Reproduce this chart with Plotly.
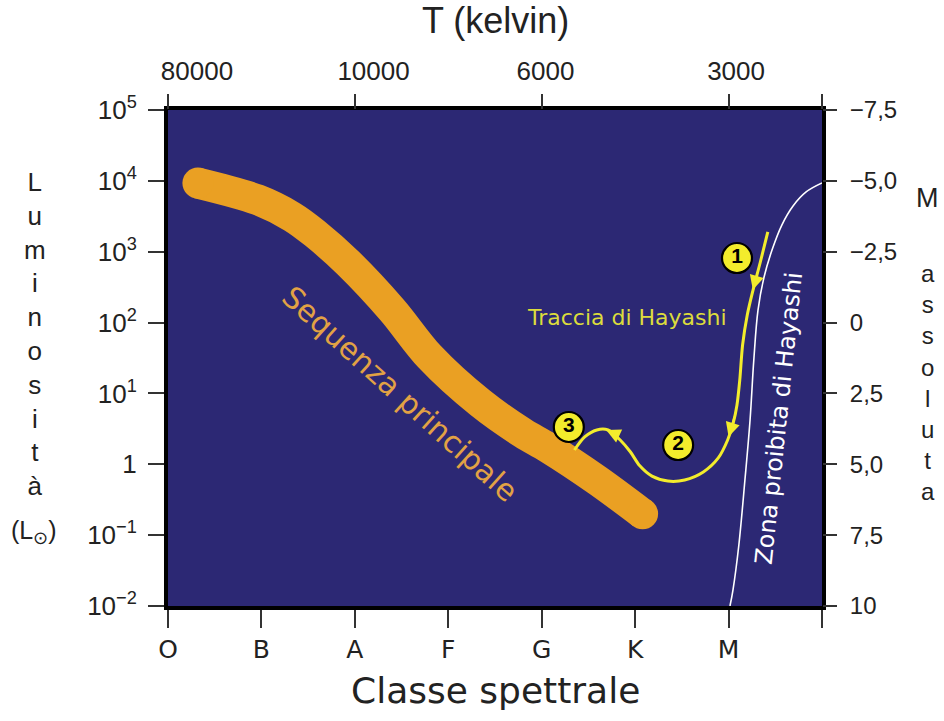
import plotly.graph_objects as go
import numpy as np

# ---------------- data ----------------
spectral_classes = ['O', 'B', 'A', 'F', 'G', 'K', 'M', '']
spectral_pos = [0, 1, 2, 3, 4, 5, 6, 7]

temp_labels = ['80000', '10000', '6000', '3000']
temp_label_pos = [0.31, 2.20, 4.04, 6.08]
temp_tick_pos = [0, 2, 4, 6, 7]

lum_ticks = [1e-2, 1e-1, 1, 1e1, 1e2, 1e3, 1e4, 1e5]
lum_ticktext = ['10<sup>−2</sup>', '10<sup>−1</sup>', '1', '10<sup>1</sup>',
                '10<sup>2</sup>', '10<sup>3</sup>', '10<sup>4</sup>', '10<sup>5</sup>']

mag_ticks = [-7.5, -5.0, -2.5, 0, 2.5, 5.0, 7.5, 10]
mag_ticktext = ['−7,5', '−5,0', '−2,5', '0', '2,5', '5,0', '7,5', '10']

# main sequence (spectral index, luminosity in L_sun)
ms_x = [0.32, 0.96, 1.33, 1.57, 1.93, 2.40, 2.80, 3.34, 3.80, 4.06, 4.59, 5.08]
ms_L = [9300, 5400, 3100, 1820, 690, 150, 33, 7.4, 2.75, 1.74, 0.60, 0.20]

# Hayashi track
hay_x = [6.42, 6.34, 6.26, 6.20, 6.15, 6.12, 6.09, 6.05, 5.99, 5.89, 5.73, 5.53,
         5.35, 5.18, 5.05, 4.95, 4.84, 4.71, 4.59, 4.46, 4.35]
hay_L = [1900, 716, 281, 128, 48.2, 15.5, 6.87, 3.83, 2.20, 1.23, 0.78, 0.60,
         0.58, 0.68, 0.95, 1.49, 2.20, 3.05, 3.05, 2.43, 1.59]

# Hayashi forbidden-zone boundary
fz_x = [7.00, 6.83, 6.69, 6.57, 6.465, 6.38, 6.315, 6.27, 6.23, 6.175, 6.11, 6.047, 6.015]
fz_L = [9330, 6970, 4420, 2380, 1057, 440, 150, 29.6, 4.22, 0.60, 0.0726, 0.0168, 0.01]

# numbered stages
stage_x = [6.09, 5.46, 4.29]
stage_L = [815, 1.87, 3.36]
stage_txt = ['1', '2', '3']

# arrows on the track: (head x, head L, tail x, tail L)
arrow_heads = [(6.26, 290.0, 6.305, 470.0),
               (6.00, 2.45, 6.07, 4.9),
               (4.69, 3.05, 4.83, 2.5)]

# ---------------- styles ----------------
NAVY = '#2c2874'
ORANGE = '#eaa023'
YELLOW = '#f3ec2c'
TXT = '#222222'
SANS = 'Liberation Sans, Arial, sans-serif'
DJV = 'DejaVu Sans, sans-serif'

fig = go.Figure()

fig.add_trace(go.Scatter(x=ms_x, y=ms_L, mode='lines',
                         line=dict(color=ORANGE, width=31, shape='spline', smoothing=0.9),
                         hoverinfo='skip', showlegend=False))
fig.add_trace(go.Scatter(x=[ms_x[0], ms_x[-1]], y=[ms_L[0], ms_L[-1]], mode='markers',
                         marker=dict(color=ORANGE, size=31, line=dict(width=0)),
                         hoverinfo='skip', showlegend=False))

fig.add_trace(go.Scatter(x=fz_x, y=fz_L, mode='lines',
                         line=dict(color='white', width=1.6, shape='spline', smoothing=1.0),
                         hoverinfo='skip', showlegend=False))

fig.add_trace(go.Scatter(x=hay_x, y=hay_L, mode='lines',
                         line=dict(color=YELLOW, width=3, shape='spline', smoothing=0.8),
                         hoverinfo='skip', showlegend=False))

fig.add_trace(go.Scatter(x=stage_x, y=stage_L, mode='markers+text',
                         text=['<b>%s</b>' % t for t in stage_txt],
                         textposition='middle center',
                         textfont=dict(family=SANS, size=21, color='black'),
                         marker=dict(color=YELLOW, size=30, line=dict(color='black', width=2.2)),
                         hoverinfo='skip', showlegend=False))

# dummy trace for secondary axes
fig.add_trace(go.Scatter(x=[0], y=[10], xaxis='x2', yaxis='y2', mode='markers',
                         marker=dict(opacity=0), hoverinfo='skip', showlegend=False))

annotations = []
for hx, hL, tx, tL in arrow_heads:
    annotations.append(dict(x=hx, y=np.log10(hL), ax=tx, ay=np.log10(tL),
                            xref='x', yref='y', axref='x', ayref='y', text='',
                            showarrow=True, arrowhead=2, arrowsize=1.3, arrowwidth=2.2,
                            arrowcolor=YELLOW, standoff=0, startstandoff=0))

def label(x, y, text, size, family=SANS, color=TXT, ref='paper', angle=0):
    return dict(x=x, y=y, xref=ref, yref=ref, text=text, showarrow=False,
                xanchor='center', yanchor='middle', textangle=angle,
                font=dict(family=family, size=size, color=color))

annotations += [
    label(4.91, 2.065, 'Traccia di Hayashi', 22, DJV, '#dcdc3c', 'x'),
    label(2.48, 1.0, 'Sequenza principale', 30, DJV, '#e2a244', 'x', 42),
    label(6.54, 0.65, 'Zona proibita di Hayashi', 24, DJV, 'white', 'x', -84),
    # axis titles
    label(0.50, 1.18, 'T (kelvin)', 36),
    label(0.50, -0.17, 'Classe spettrale', 36, DJV),
    label(-0.203, 0.548, '<br>'.join(list('Luminosità')), 26),
    label(-0.205, 0.15, '(L<sub>⊙</sub>)', 25),
    label(1.162, 0.823, 'M', 27),
    label(1.162, 0.450, '<br>'.join(list('assoluta')), 24),
]

for a in annotations[3:]:
    if a.get('xref') in ('x',):
        a['yref'] = 'y'

fig.update_layout(
    width=944, height=721,
    margin=dict(l=168, r=122, t=110, b=115),
    paper_bgcolor='white', plot_bgcolor=NAVY,
    showlegend=False,
    annotations=annotations,
    xaxis=dict(range=[0, 7], tickmode='array', tickvals=spectral_pos, ticktext=spectral_classes,
               ticks='outside', ticklen=18, tickwidth=1.5, tickcolor='#333',
               tickfont=dict(family=DJV, size=25, color=TXT),
               showline=True, linewidth=4, linecolor='black', mirror=True,
               showgrid=False, zeroline=False, fixedrange=True, ticklabelstandoff=0),
    xaxis2=dict(range=[0, 7], overlaying='x', side='top', tickmode='array',
                tickvals=temp_label_pos, ticktext=temp_labels, ticks='',
                minor=dict(tickmode='array', tickvals=temp_tick_pos, ticks='outside',
                           ticklen=15, tickwidth=1.5, tickcolor='#333', showgrid=False),
                tickfont=dict(family=SANS, size=26, color=TXT),
                showline=False, showgrid=False, zeroline=False, ticklabelstandoff=24),
    yaxis=dict(type='log', range=[-2, 5], tickmode='array', tickvals=lum_ticks,
               ticktext=lum_ticktext, ticks='outside', ticklen=16, tickwidth=1.5,
               tickcolor='#333', tickfont=dict(family=SANS, size=26, color=TXT),
               showline=True, linewidth=4, linecolor='black', mirror=True,
               showgrid=False, zeroline=False, ticklabelstandoff=6),
    yaxis2=dict(range=[10, -7.5], overlaying='y', side='right', tickmode='array',
                tickvals=mag_ticks, ticktext=mag_ticktext, ticks='outside', ticklen=14,
                tickwidth=1.5, tickcolor='#333',
                tickfont=dict(family=SANS, size=24, color=TXT),
                showline=False, showgrid=False, zeroline=False, ticklabelstandoff=8),
)

fig.write_html('out.html')
